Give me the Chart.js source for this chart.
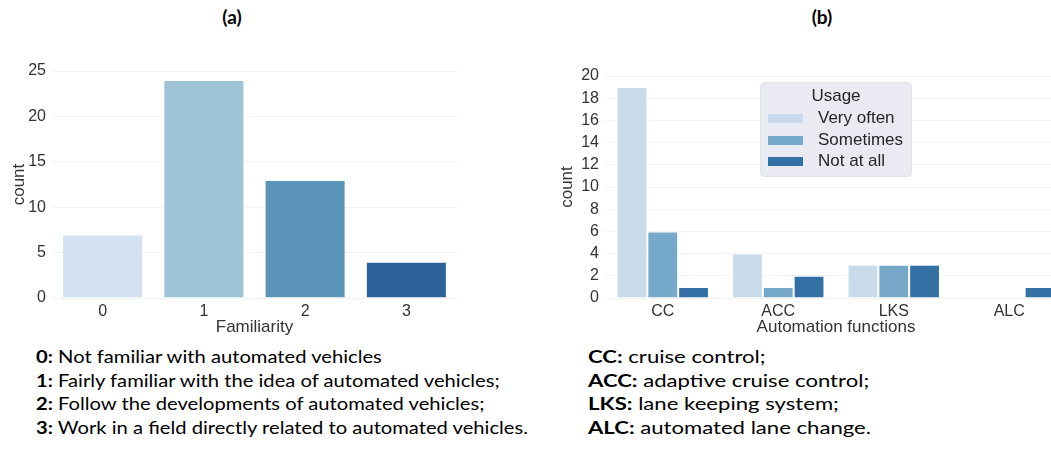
<!DOCTYPE html>
<html><head><meta charset="utf-8">
<script src="https://cdn.jsdelivr.net/npm/chart.js@4.4.0/dist/chart.umd.min.js"></script>
<style>
html,body{margin:0;padding:0;width:1051px;height:452px;overflow:hidden;background:#fff;}
#wrapA{position:absolute;left:0;top:0;width:470px;height:345px;}
#wrapB{position:absolute;left:540px;top:0;width:540px;height:345px;}
.ptitle{position:absolute;top:5px;font-family:Lato,'Open Sans',sans-serif;font-weight:bold;font-size:19px;color:#000;transform:translateX(-50%);}
.caps{position:absolute;top:346px;font-family:Lato,'Open Sans',sans-serif;font-size:16.5px;line-height:23.5px;color:#000;white-space:nowrap;transform-origin:0 0;}
.caps b{font-weight:bold;}
#legend{position:absolute;left:760px;top:82px;width:152px;height:95px;background:#eaeaf2;border:1px solid #e2e2ea;border-radius:4px;box-sizing:border-box;font-family:'Liberation Sans',Arial,sans-serif;color:#262626;}
#legend .lt{position:absolute;left:0;width:150px;text-align:center;top:3px;font-size:17px;}
#legend .row{position:absolute;left:0;height:20px;width:150px;}
#legend .sw{position:absolute;left:7px;top:6px;width:35px;height:9px;}
#legend .lb{position:absolute;left:57px;top:0px;font-size:17px;line-height:19px;}
</style>
</head><body>
<div class="ptitle" style="left:232px">(a)</div>
<div class="ptitle" style="left:822px">(b)</div>
<div id="wrapA"><canvas id="chartA"></canvas></div>
<div id="wrapB"><canvas id="chartB"></canvas></div>
<div id="legend"></div>
<div class="caps" id="capA" style="left:36px"></div>
<div class="caps" id="capB" style="left:588px"></div>
<script>
// ---- data ----
const famCategories = ['0', '1', '2', '3'];
const famCounts = [7, 24, 13, 4];
const famColors = ['#d3e2f0', '#9fc3d7', '#5b95bc', '#2b6399'];
const famTicks = [0, 5, 10, 15, 20, 25];

const funcCategories = ['CC', 'ACC', 'LKS', 'ALC'];
const usageLabels = ['Very often', 'Sometimes', 'Not at all'];
const usageVeryOften = [19, 4, 3, 0];
const usageSometimes = [6, 1, 3, 0];
const usageNotAtAll = [1, 2, 3, 1];
const usageColors = ['#c9dbeb', '#76a9c9', '#3371a5'];
const funcTicks = [0, 2, 4, 6, 8, 10, 12, 14, 16, 18, 20];

const famKeys = ['0:', '1:', '2:', '3:'];
const famDescriptions = [
  'Not familiar with automated vehicles',
  'Fairly familiar with the idea of automated vehicles;',
  'Follow the developments of automated vehicles;',
  'Work in a field directly related to automated vehicles.'
];
const funcKeys = ['CC:', 'ACC:', 'LKS:', 'ALC:'];
const funcDescriptions = [
  'cruise control;',
  'adaptive cruise control;',
  ' lane keeping system;',
  'automated lane change.'
];

// ---- common styles ----
const tickColor = '#333333';
const gridColor = '#f3f3f3';
const tickFont = {family: "'Liberation Sans', Arial, sans-serif", size: 16};
const titleFont = {family: "'Liberation Sans', Arial, sans-serif", size: 17};

function xAxis(text) {
  return {
    grid: {display: false, drawTicks: false}, border: {display: false},
    ticks: {font: tickFont, color: tickColor, padding: 4},
    title: {display: true, text: text, font: titleFont, color: tickColor, padding: {top: 0, bottom: 7}},
    afterFit: s => { s.height = 47; }
  };
}
function yAxis(maxV, tickList, tickPad, titlePad, width) {
  return {
    min: 0, max: maxV,
    afterBuildTicks: s => { s.ticks = tickList.map(v => ({value: v})); },
    grid: {color: gridColor, drawTicks: false}, border: {display: false},
    ticks: {font: tickFont, color: tickColor, padding: tickPad},
    title: {display: true, text: 'count', font: titleFont, color: tickColor, padding: {top: titlePad, bottom: 0}},
    afterFit: s => { s.width = width; }
  };
}

// ---- chart (a) ----
new Chart(document.getElementById('chartA'), {
  type: 'bar',
  data: {
    labels: famCategories,
    datasets: [{
      data: famCounts,
      backgroundColor: famColors,
      borderColor: 'rgba(255,255,255,0.35)',
      borderWidth: 1,
      categoryPercentage: 0.8,
      barPercentage: 1.0
    }]
  },
  options: {
    responsive: true, maintainAspectRatio: false, devicePixelRatio: 1, animation: false,
    layout: {padding: {left: 0, top: 71, right: 13, bottom: 0}},
    plugins: {legend: {display: false}, tooltip: {enabled: false}},
    scales: {x: xAxis('Familiarity'), y: yAxis(25, famTicks, 6, 9, 52)}
  }
});

// ---- chart (b) ----
const usageData = [usageVeryOften, usageSometimes, usageNotAtAll];
new Chart(document.getElementById('chartB'), {
  type: 'bar',
  data: {
    labels: funcCategories,
    datasets: usageLabels.map((lab, i) => ({
      label: lab,
      data: usageData[i],
      backgroundColor: usageColors[i],
      borderColor: 'rgba(255,255,255,0.35)',
      borderWidth: 1,
      categoryPercentage: 0.8,
      barPercentage: 1.0
    }))
  },
  options: {
    responsive: true, maintainAspectRatio: false, devicePixelRatio: 1, animation: false,
    layout: {padding: {left: 0, top: 76, right: 13, bottom: 0}},
    plugins: {legend: {display: false}, tooltip: {enabled: false}},
    scales: {x: xAxis('Automation functions'), y: yAxis(20, funcTicks, 6, 17, 65)}
  }
});

// ---- legend (b) ----
const leg = document.getElementById('legend');
let html = '<div class="lt">Usage</div>';
usageLabels.forEach((lab, i) => {
  html += '<div class="row" style="top:' + (25 + i * 21.5) + 'px"><div class="sw" style="background:' + usageColors[i] + '"></div><div class="lb">' + lab + '</div></div>';
});
leg.innerHTML = html;

// ---- captions ----
function fillCaps(el, keys, texts) {
  el.innerHTML = keys.map((k, i) => '<div><b>' + k + '</b> ' + texts[i] + '</div>').join('');
}
fillCaps(document.getElementById('capA'), famKeys, famDescriptions);
fillCaps(document.getElementById('capB'), funcKeys, funcDescriptions);
function fitWidth(el, target) {
  const w = el.getBoundingClientRect().width;
  el.style.transform = 'scaleX(' + (target / w) + ')';
}
fitWidth(document.getElementById('capA'), 492);
fitWidth(document.getElementById('capB'), 283);
</script>
</body></html>
